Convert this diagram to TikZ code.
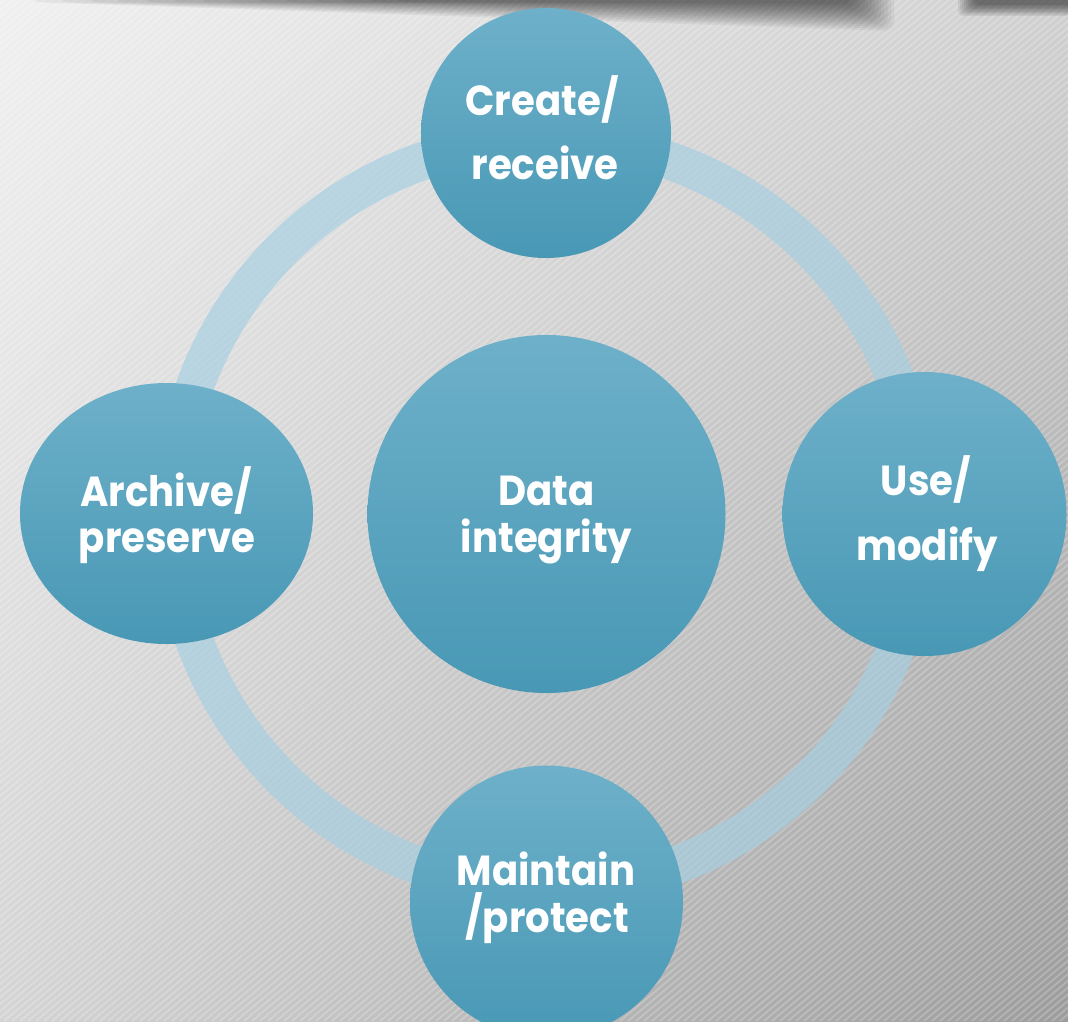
\documentclass[tikz,border=0pt]{standalone}
\usepackage{fontspec}
\setmainfont{Poppins}[FakeStretch=0.92]
\usetikzlibrary{shapes.geometric,shadings}
\definecolor{bgUL}{HTML}{F0F0F0}
\definecolor{bgUR}{HTML}{D0D0D0}
\definecolor{bgLL}{HTML}{D4D4D4}
\definecolor{bgLR}{HTML}{9C9C9C}
\definecolor{bubTop}{HTML}{6EB0C9}
\definecolor{bubBot}{HTML}{4898B5}
\definecolor{ringC}{HTML}{A6CFE2}
\begin{document}
\begin{tikzpicture}[x=1pt,y=-1pt,
  bubble/.style={circle, inner sep=0pt, top color=bubTop, bottom color=bubBot, draw=none},
  oval/.style={ellipse, inner sep=0pt, top color=bubTop, bottom color=bubBot, draw=none},
  lbl/.style={text=white, font=\bfseries\fontsize{42}{46}\selectfont, anchor=base, inner sep=0pt},
  ringline/.style={draw=ringC, draw opacity=0.68, line width=38pt},
  shadowlayer/.style={fill=black, opacity=0.048, rounded corners=10pt}]
\useasboundingbox (0,0) rectangle (1068,1021);
% background
\shade[upper left=bgUL, upper right=bgUR, lower left=bgLL, lower right=bgLR] (0,0) rectangle (1068,1021);
\begin{scope}
\clip (0,0) rectangle (1068,1021);
\foreach \x in {-1300,-1292,...,1075}
  \draw[white, opacity=0.22, line width=1.8pt] (\x,1021) -- ++(1217,-1021);
% top shadow (soft, layered)
\foreach \i in {0,...,13}
  \fill[shadowlayer] (30+\i*28,-14) -- (894-\i*3.2,-14) -- (894-\i*3.2,31-\i*2.1) -- (30+\i*28,2) -- cycle;
\foreach \i in {0,...,8}
  \fill[shadowlayer, opacity=0.07, rounded corners=5pt] (958+\i*2,-12) rectangle (1080,16-\i*1.4);
\end{scope}
% ring
\coordinate (ctr) at (546.5,514);
\draw[ringline] (ctr) circle[radius=374];
% bubbles
\node[bubble, minimum size=250pt] (top) at (546,133) {};
\node[oval, minimum width=293pt, minimum height=261pt] (left) at (166.5,513.5) {};
\node[bubble, minimum size=358pt] (mid) at (ctr) {};
\node[bubble, minimum size=284pt] (right) at (924.5,514) {};
\node[bubble, minimum size=273pt] (bot) at (546.5,902) {};
% labels
\node[lbl] (t1a) at (542,115) {Create/};
\node[lbl] (t1b) at (545,179) {receive};
\node[lbl] (t2a) at (166,506) {Archive/};
\node[lbl] (t2b) at (167,552) {preserve};
\node[lbl] (t3a) at (546.5,505) {Data};
\node[lbl] (t3b) at (546.5,552) {integrity};
\node[lbl] (t4a) at (926,495) {Use/};
\node[lbl] (t4b) at (927,560) {modify};
\node[lbl] (t5a) at (546,885) {Maintain};
\node[lbl] (t5b) at (547,932) {/protect};
\end{tikzpicture}
\end{document}
